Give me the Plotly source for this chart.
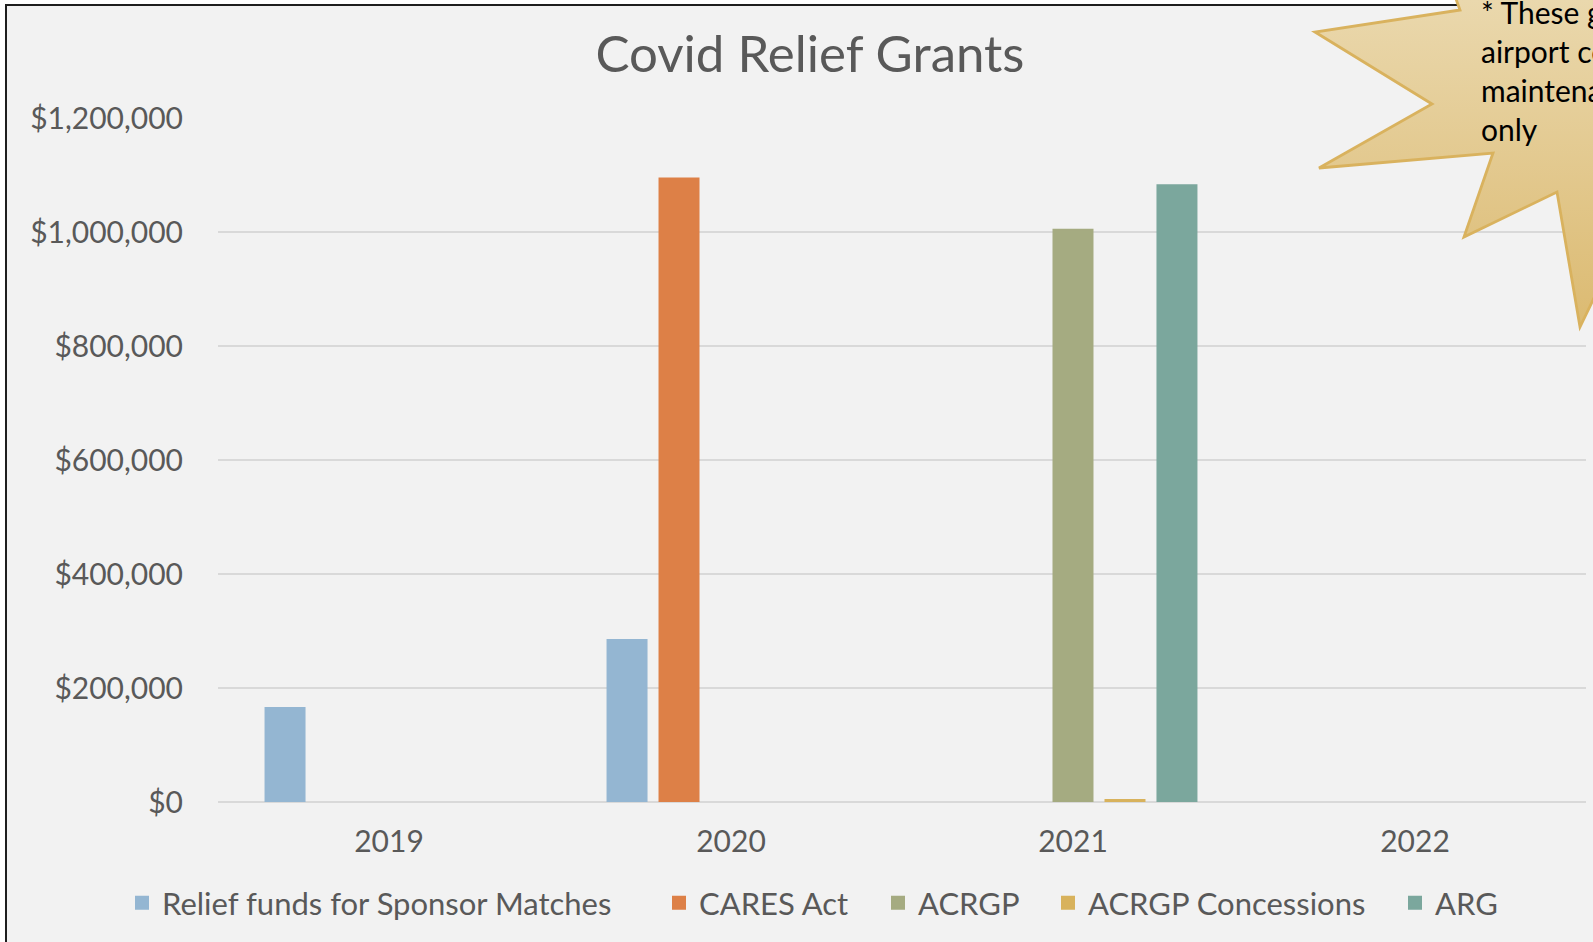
import base64
import plotly.graph_objects as go

# ---------------- data ----------------
years = ["2019", "2020", "2021", "2022"]
series_names = [
    "Relief funds for Sponsor Matches",
    "CARES Act",
    "ACRGP",
    "ACRGP Concessions",
    "ARG",
]
relief_funds = [165000, 284000, None, None]
cares_act = [None, 1094000, None, None]
acrgp = [None, None, 1004000, None]
acrgp_concessions = [None, None, 3500, None]
arg = [None, None, 1082000, None]
series_values = [relief_funds, cares_act, acrgp, acrgp_concessions, arg]
series_colors = ["#94B6D2", "#DD8047", "#A5AB81", "#D8B25C", "#7BA79D"]
y_tick_values = [0, 200000, 400000, 600000, 800000, 1000000, 1200000]
chart_title = "Covid Relief Grants"
note_lines = ["* These grants are for", "airport costs and", "maintenance", "only"]

# ---------------- layout geometry (decorations only) ----------------
W, H = 1593, 942
ML, MR, MT, MB = 218, 7, 118, 140
PW, PH = W - ML - MR, H - MT - MB
legend_text_left = [162, 699, 918, 1088, 1435]   # where each legend entry's text starts (px)


def px(x):
    return (x - ML) / PW


def py(y):
    return (H - MB - y) / PH


FONT = "Lato, 'Open Sans', sans-serif"
TEXT_COLOR = "#595959"

fig = go.Figure()
legend_ids = ["legend"] + [f"legend{i}" for i in range(2, len(series_names) + 1)]
for name, vals, col, lid in zip(series_names, series_values, series_colors, legend_ids):
    fig.add_trace(go.Bar(
        x=years, y=vals, name=name, legend=lid,
        marker=dict(color=col, line=dict(width=2, color=col)),
    ))

# star burst callout as an SVG image with vertical gradient
star_pts = [(1440, -45), (1460, 10), (1315, 32), (1432, 104), (1319, 168),
            (1493, 153), (1464, 237), (1557, 192), (1580, 327), (1622, 240),
            (1760, 260), (1760, -120), (1480, -120)]
pts_str = " ".join(f"{x},{y}" for x, y in star_pts)
svg = f"""<svg xmlns="http://www.w3.org/2000/svg" width="{W}" height="{H}" viewBox="0 0 {W} {H}">
<defs><linearGradient id="g" x1="0" y1="0" x2="0" y2="340" gradientUnits="userSpaceOnUse">
<stop offset="0" stop-color="#EAD8AD"/><stop offset="1" stop-color="#DBB96F"/></linearGradient></defs>
<polygon points="{pts_str}" fill="url(#g)" stroke="#D9B25E" stroke-width="2.8" stroke-linejoin="miter"/>
</svg>"""
src = "data:image/svg+xml;base64," + base64.b64encode(svg.encode()).decode()

fig.add_layout_image(dict(
    source=src, xref="paper", yref="paper", x=px(0), y=py(0),
    sizex=W / PW, sizey=H / PH, xanchor="left", yanchor="top",
    sizing="stretch", layer="above",
))

shapes = [
    dict(type="rect", xref="paper", yref="paper", x0=px(0), x1=px(5), y0=py(H), y1=py(0),
         fillcolor="white", line=dict(width=0), layer="below"),
    dict(type="rect", xref="paper", yref="paper", x0=px(0), x1=px(W), y0=py(4), y1=py(0),
         fillcolor="white", line=dict(width=0), layer="below"),
    dict(type="line", xref="paper", yref="paper", x0=px(6), x1=px(6), y0=py(H), y1=py(5),
         line=dict(color="#1E1E1E", width=2), layer="below"),
    dict(type="line", xref="paper", yref="paper", x0=px(5), x1=px(W), y0=py(5), y1=py(5),
         line=dict(color="#1E1E1E", width=2), layer="below"),
]

legend_style = dict(orientation="h", xref="container", xanchor="left",
                    yref="container", y=1 - 903 / H, yanchor="middle",
                    font=dict(size=31, color=TEXT_COLOR, family=FONT),
                    bgcolor="rgba(0,0,0,0)", borderwidth=0,
                    itemclick=False, itemdoubleclick=False)
legend_layout = {lid: dict(legend_style, x=(tx - 40) / W)
                 for lid, tx in zip(legend_ids, legend_text_left)}

fig.update_layout(
    width=W, height=H,
    margin=dict(l=ML, r=MR, t=MT, b=MB, pad=0),
    paper_bgcolor="#F2F2F2", plot_bgcolor="#F2F2F2",
    font=dict(family=FONT, color=TEXT_COLOR),
    title=dict(text=chart_title, x=810 / W, xref="container", xanchor="center",
               y=1 - 54 / H, yref="container", yanchor="middle",
               font=dict(size=51, color=TEXT_COLOR, family=FONT)),
    barmode="group", bargap=0.24, bargroupgap=0.25,
    showlegend=True,
    shapes=shapes,
    annotations=[dict(
        text="<br>".join(note_lines), xref="paper", yref="paper",
        x=px(1479), y=py(70), xanchor="left", yanchor="middle", align="left",
        showarrow=False, font=dict(size=30, color="#000000", family=FONT),
    )],
    hovermode=False,
    **legend_layout,
)
fig.update_xaxes(
    type="category", categoryorder="array", categoryarray=years,
    showgrid=False, showline=False, zeroline=False, ticks="",
    tickfont=dict(size=30, color=TEXT_COLOR, family=FONT), ticklabelstandoff=19,
)
fig.update_yaxes(
    range=[0, 1200000], tickvals=y_tick_values, tickformat="$,.0f",
    showgrid=True, gridcolor="#D9D9D9", gridwidth=1.5,
    zeroline=True, zerolinecolor="#D9D9D9", zerolinewidth=1.5,
    showline=False, ticks="",
    tickfont=dict(size=30, color=TEXT_COLOR, family=FONT), ticklabelstandoff=34,
)

fig.write_html(
    "out.html",
    config={"displayModeBar": False, "staticPlot": True},
    post_script="document.body.style.margin='0';document.body.style.overflow='hidden';",
)
